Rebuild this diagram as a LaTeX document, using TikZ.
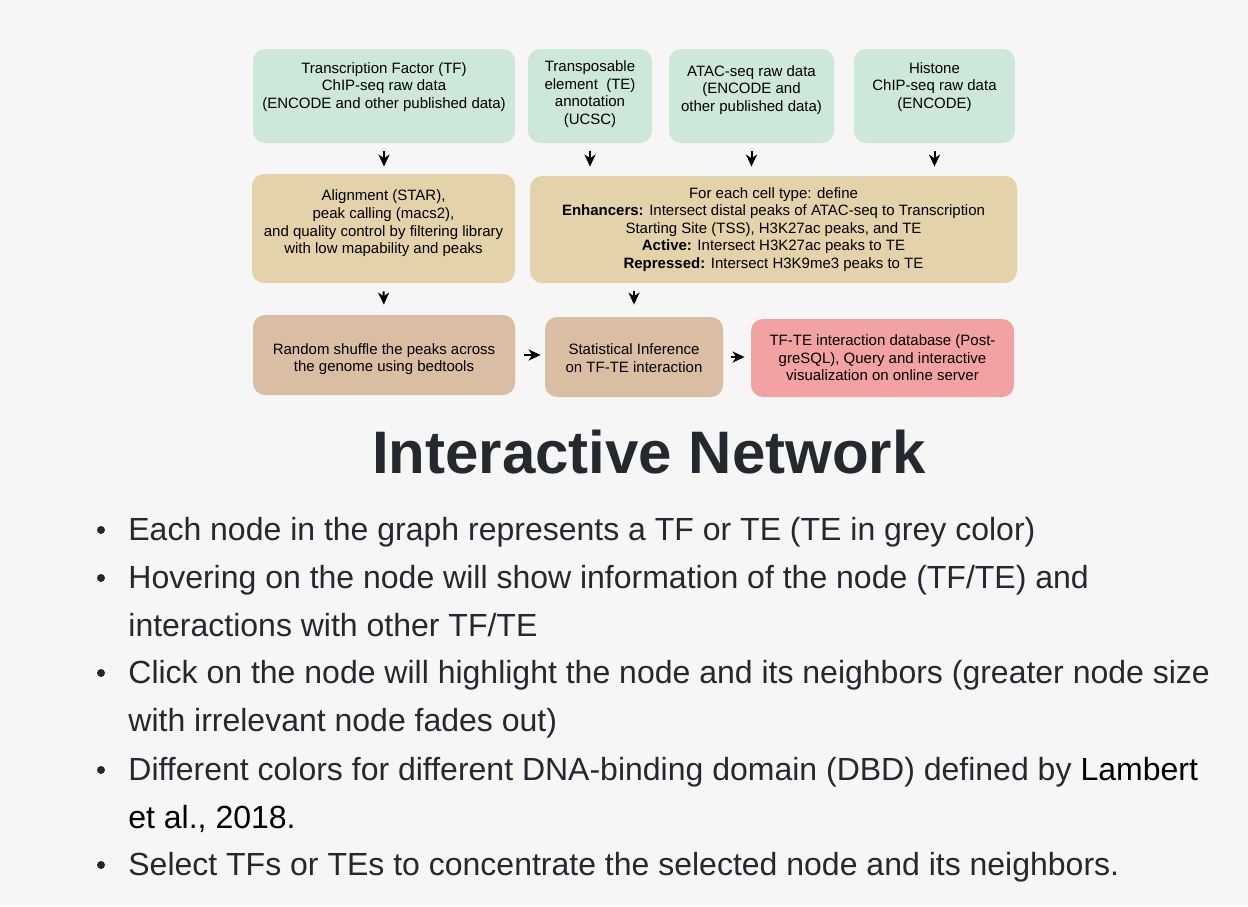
\documentclass[tikz,border=0pt]{standalone}
\usepackage{fontspec}
\setmainfont{Liberation Sans}
\usetikzlibrary{arrows.meta,positioning}
\definecolor{pagebg}{HTML}{F6F6F6}
\definecolor{rawgreen}{HTML}{CDE8D9}
\definecolor{proctan}{HTML}{E3D2AA}
\definecolor{shufbrown}{HTML}{DABEA3}
\definecolor{dbpink}{HTML}{F2A2A2}
\definecolor{mdtext}{HTML}{24292F}

\begin{document}
\begin{tikzpicture}[x=0.5pt,y=-0.5pt,
  box/.style={rounded corners=6pt,inner sep=0pt},
  txt/.style={align=center,inner sep=0pt,text=black,
    font=\fontsize{7.5}{8.8}\selectfont},
  arr/.style={-{Stealth[length=6pt,width=5.5pt,inset=1.8pt]},line width=1pt},
  item/.style={anchor=base west,inner sep=0pt,text=mdtext,
    font=\fontsize{16}{24}\selectfont},
  dot/.style={circle,fill=mdtext,inner sep=0pt,minimum size=4pt}]
  \fill[pagebg] (0,0) rectangle (1248,906);
  \useasboundingbox (0,0) rectangle (1248,906);
  \node[box,fill=rawgreen,minimum width=131pt,minimum height=47pt] (tf) at (384,96) {};
  \node[txt] (tf-t) at ([yshift=4.5pt]tf.center)
    {Transcription Factor (TF)\\ChIP-seq raw data\\(ENCODE and other published data)};
  \node[box,fill=rawgreen,minimum width=62pt,minimum height=47pt] (te) at (590,96) {};
  \node[txt] (te-t) at ([yshift=1pt]te.center)
    {Transposable\\element\ \ (TE)\\annotation\\(UCSC)};
  \node[box,fill=rawgreen,minimum width=82.5pt,minimum height=47pt] (atac) at (751.5,96) {};
  \node[txt] (atac-t) at ([yshift=3pt]atac.center)
    {ATAC-seq raw data\\(ENCODE and\\other published data)};
  \node[box,fill=rawgreen,minimum width=80.5pt,minimum height=47pt] (hist) at (934.5,96) {};
  \node[txt] (hist-t) at ([yshift=4.5pt]hist.center)
    {Histone\\ChIP-seq raw data\\(ENCODE)};
  \node[box,fill=proctan,minimum width=131.5pt,minimum height=54.5pt] (align) at (383.5,228.5) {};
  \node[txt] (align-t) at ([yshift=2.5pt]align.center)
    {Alignment (STAR),\\peak calling (macs2),\\and quality control by filtering library\\with low mapability and peaks};
  \node[box,fill=proctan,minimum width=243.5pt,minimum height=53.5pt] (define) at (773.5,229.5) {};
  \node[txt] (define-t) at (define.center)
    {For each cell type: define\\\textbf{Enhancers:} Intersect distal peaks of ATAC-seq to Transcription\\Starting Site (TSS), H3K27ac peaks, and TE\\\textbf{Active:} Intersect H3K27ac peaks to TE\\\textbf{Repressed:} Intersect H3K9me3 peaks to TE};
  \node[box,fill=shufbrown,minimum width=131pt,minimum height=40pt] (random) at (384,355) {};
  \node[txt] (random-t) at ([yshift=-2pt]random.center)
    {Random shuffle the peaks across\\the genome using bedtools};
  \node[box,fill=shufbrown,minimum width=89pt,minimum height=40pt] (stat) at (634,357) {};
  \node[txt] (stat-t) at ([yshift=-0.5pt]stat.center)
    {Statistical Inference\\on TF-TE interaction};
  \node[box,fill=dbpink,minimum width=131.5pt,minimum height=39pt] (db) at (882.5,358) {};
  \node[txt] (db-t) at (db.center)
    {TF-TE interaction database (Post-\\greSQL), Query and interactive\\visualization on online server};
  \draw[arr,shorten <=4pt,shorten >=3.5pt] (tf.south) -- (tf.south |- align.north);
  \draw[arr,shorten <=4pt,shorten >=4.5pt] (te.south) -- (te.south |- define.north);
  \draw[arr,shorten <=4pt,shorten >=4.5pt] (atac.south) -- (atac.south |- define.north);
  \draw[arr,shorten <=4pt,shorten >=4.5pt] (hist.south) -- (hist.south |- define.north);
  \draw[arr,shorten <=4pt,shorten >=5pt] (align.south) -- (random.north);
  \draw[arr,shorten <=4pt,shorten >=6pt] (stat.north |- define.south) -- (stat.north);
  \draw[arr,shorten <=4.5pt,shorten >=2pt] (random.east) -- (random.east -| stat.west);
  \draw[arr,shorten <=4pt,shorten >=3pt] (stat.east) -- (stat.east -| db.west);
  \node[anchor=base,inner sep=0pt,text=mdtext,font=\fontsize{30}{36}\selectfont\bfseries] (title) at (649,473)
    {Interactive Network};
  \foreach \y in {540,588,683,780,875}
    \node[dot,name=dot\y] at (101,\y-10) {};
  \node[item] (l1) at (128,540) {Each node in the graph represents a TF or TE (TE in grey color)};
  \node[item] (l2) at (128,588) {Hovering on the node will show information of the node (TF/TE) and};
  \node[item] (l3) at (128,636) {interactions with other TF/TE};
  \node[item] (l4) at (128,683) {Click on the node will highlight the node and its neighbors (greater node size};
  \node[item] (l5) at (128,731) {with irrelevant node fades out)};
  \node[item] (l6) at (128,780) {Different colors for different DNA-binding domain (DBD) defined by \textcolor{black}{Lambert}};
  \node[item] (l7) at (128,828) {\textcolor{black}{et al., 2018.}};
  \node[item] (l8) at (128,875) {Select TFs or TEs to concentrate the selected node and its neighbors.};
\end{tikzpicture}
\end{document}
